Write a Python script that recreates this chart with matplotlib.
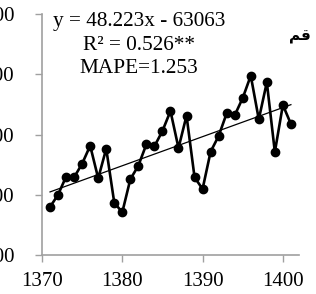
"""
  Serie anual com linha de tendencia.
"""
import matplotlib
matplotlib.use('Agg')
import matplotlib.pyplot as plt

anos = list(range(1371, 1402))
valores = [2801, 3005, 3303, 3293, 3519, 3817, 3277, 3767, 2872, 2713,
           3260, 3486, 3840, 3807, 4061, 4392, 3779, 4315, 3293, 3099,
           3718, 3978, 4354, 4321, 4608, 4978, 4255, 4868, 3713, 4492,
           4177]
inclinacao = 48.223
intercepto = -63063
xticks = [1370, 1380, 1390, 1400]
yticks = [2000, 3000, 4000, 5000, 6000]

plt.rcParams['font.family'] = ['Liberation Serif', 'DejaVu Sans']

fig = plt.figure(figsize=(3.16, 2.94), dpi=100)
ax = fig.add_axes([0.1329, 0.1316, 0.8131, 0.8207])

ax.plot(anos, valores, color='black', lw=1.9, marker='o', ms=6, zorder=3)
tendencia = [inclinacao * a + intercepto for a in anos]
ax.plot(anos, tendencia, color='black', lw=0.9, zorder=2)

ax.set_xlim(1370, 1402)
ax.set_ylim(2000, 6000)
ax.set_xticks(xticks)
ax.set_yticks(yticks)
ax.tick_params(axis='both', labelsize=15, length=5, width=1, color='#a0a0a0')
ax.tick_params(axis='y', pad=15)
ax.tick_params(axis='x', pad=7)
for s in ['top', 'right']:
  ax.spines[s].set_visible(False)
for s in ['left', 'bottom']:
  ax.spines[s].set_color('#a0a0a0')
  ax.spines[s].set_linewidth(1.2)

fs = 15.3
fig.text(139/316, 1 - 26/294, 'y = 48.223x - 63063', ha='center', va='baseline', fontsize=fs)
fig.text(139/316, 1 - 50/294, 'R² = 0.526**', ha='center', va='baseline', fontsize=fs)
fig.text(139/316, 1 - 73/294, 'MAPE=1.253', ha='center', va='baseline', fontsize=fs)
fig.text(300/316, 1 - 37/294, '\uFEE2\uFED7', ha='center', va='center', fontsize=11,
         fontweight='bold', family=['DejaVu Sans'])

fig.savefig('out.png', dpi=100)
